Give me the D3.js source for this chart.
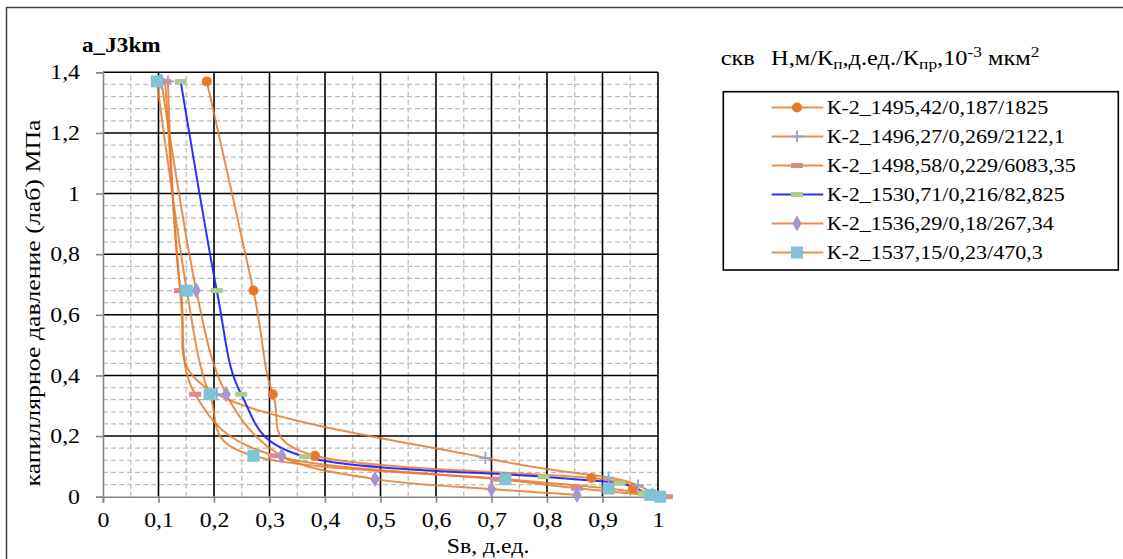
<!DOCTYPE html>
<html><head><meta charset="utf-8">
<script src="https://cdn.jsdelivr.net/npm/d3@7"></script>
<style>
html,body{margin:0;padding:0;background:#fff;}
svg{display:block;font-family:"Liberation Serif","Times New Roman",serif;}
</style></head>
<body><svg id="c" width="1123" height="559"></svg>
<script>
// ---- data ----
const legendNames = ["К-2_1495,42/0,187/1825","К-2_1496,27/0,269/2122,1","К-2_1498,58/0,229/6083,35","К-2_1530,71/0,216/82,825","К-2_1536,29/0,18/267,34","К-2_1537,15/0,23/470,3"];
const sw1495 = [0.187,0.271,0.306,0.382,0.88,0.955,0.985];
const pc1495 = [1.37,0.68,0.338,0.135,0.062,0.028,0.008];
const sw1496 = [0.117,0.14,0.205,0.689,0.911,0.964,0.99];
const pc1496 = [1.37,0.68,0.338,0.128,0.063,0.037,0.01];
const sw1498 = [0.112,0.139,0.166,0.31,0.71,0.854,1.016];
const pc1498 = [1.37,0.68,0.338,0.135,0.058,0.028,0.0];
const sw1530 = [0.14,0.205,0.249,0.364,0.794,0.931,0.975];
const pc1530 = [1.37,0.68,0.338,0.132,0.066,0.044,0.012];
const sw1536 = [0.105,0.168,0.222,0.322,0.49,0.70,0.854];
const pc1536 = [1.37,0.68,0.338,0.135,0.058,0.025,0.006];
const sw1537 = [0.097,0.151,0.192,0.271,0.725,0.911,0.986,1.004];
const pc1537 = [1.37,0.68,0.338,0.135,0.058,0.027,0.006,0.0];
const xTicks = [0,0.1,0.2,0.3,0.4,0.5,0.6,0.7,0.8,0.9,1];
const yTicks = [0,0.2,0.4,0.6,0.8,1,1.2,1.4];
const chartTitle = "a_J3km";
const xTitle = "Sв, д.ед.";
const yTitle = "капиллярное давление (лаб) МПа";

const swSets = [sw1495,sw1496,sw1498,sw1530,sw1536,sw1537];
const pcSets = [pc1495,pc1496,pc1498,pc1530,pc1536,pc1537];
const lineColors = ["#E8792B","#E8792B","#E8792B","#2323F5","#E8792B","#E8792B"];
const markerTypes = ["circle","plus","dash","dash","diamond","square"];
const markerColors = ["#E8792B","#8FA6D2","#D98C8C","#A9CF8C","#A597CB","#7FC3D4"];

const svg = d3.select("#c");
svg.append("rect").attr("width",1123).attr("height",559).attr("fill","#fff");
svg.append("rect").attr("x",6.5).attr("y",7.5).attr("width",1130).attr("height",600)
  .attr("fill","none").attr("stroke","#404040").attr("stroke-width",1.5);

const x = d3.scaleLinear().domain([0,1]).range([103,658]);
const y = d3.scaleLinear().domain([0,1.4]).range([496.7,72.3]);
const fmt = d => String(+d.toFixed(2)).replace(".", ",");

// stretch factor for text (reference text looks horizontally wide)
const probe = svg.append("text").attr("font-size",19).text(legendNames[0]);
const stretch = 221.7 / probe.node().getComputedTextLength();
probe.remove();

function addText(g, tx, ty, str, size, anchor, rot, weight){
  const t = g.append("text")
    .attr("transform",`translate(${tx},${ty}) rotate(${rot||0}) scale(${stretch},1)`)
    .attr("font-size",size).attr("text-anchor",anchor||"start")
    .attr("font-weight",weight||"normal").attr("fill","#000");
  if (str!=null) t.text(str);
  return t;
}

// grid
const grid = svg.append("g");
const minorX = d3.range(0,10).map(k=>0.05+0.1*k);
const minorY = d3.range(1,35).filter(k=>k%5!==0).map(k=>k*0.04);
grid.selectAll(".mx").data(minorX).join("line")
  .attr("x1",d=>x(d)).attr("x2",d=>x(d)).attr("y1",y(0)).attr("y2",y(1.4))
  .attr("stroke","#BDBDBD").attr("stroke-width",1.3).attr("stroke-dasharray","5,3");
grid.selectAll(".my").data(minorY).join("line")
  .attr("x1",x(0)).attr("x2",x(1)).attr("y1",d=>y(d)).attr("y2",d=>y(d))
  .attr("stroke","#BDBDBD").attr("stroke-width",1.3).attr("stroke-dasharray","5,3");
grid.selectAll(".Mx").data(xTicks.slice(1)).join("line")
  .attr("x1",d=>x(d)).attr("x2",d=>x(d)).attr("y1",y(0)).attr("y2",y(1.4))
  .attr("stroke","#000").attr("stroke-width",1.6);
grid.selectAll(".My").data(yTicks.slice(1)).join("line")
  .attr("x1",x(0)).attr("x2",x(1)).attr("y1",d=>y(d)).attr("y2",d=>y(d))
  .attr("stroke","#000").attr("stroke-width",1.6);

// axes
const ax = svg.append("g").attr("transform",`translate(0,${y(0)})`)
  .call(d3.axisBottom(x).tickValues(xTicks).tickSize(6).tickPadding(10).tickFormat(fmt));
const ay = svg.append("g").attr("transform",`translate(${x(0)},0)`)
  .call(d3.axisLeft(y).tickValues(yTicks).tickSize(7).tickPadding(16).tickFormat(fmt));
[ax,ay].forEach(a=>{
  a.select(".domain").attr("stroke","#888").attr("stroke-width",1.6);
  a.selectAll(".tick line").attr("stroke","#888").attr("stroke-width",1.6);
  a.selectAll(".tick text").attr("font-size",20.5).attr("fill","#000")
    .attr("font-family","Liberation Serif, serif");
});
ax.selectAll(".tick text").each(function(){
  const t=d3.select(this); const yy=+t.attr("y");
  t.attr("transform",`scale(${stretch},1)`).attr("y",yy);
});
ay.selectAll(".tick text").each(function(){
  const t=d3.select(this); const xx=+t.attr("x");
  t.attr("transform",`scale(${stretch},1)`).attr("x",xx/stretch);
});

// series lines
const lineGen = d3.line().x(d=>x(d[0])).y(d=>y(d[1])).curve(d3.curveCardinal.tension(0));
const plotG = svg.append("g");
swSets.forEach((sw,i)=>{
  const pts = sw.map((v,j)=>[v,pcSets[i][j]]);
  plotG.append("path").attr("d",lineGen(pts)).attr("fill","none")
    .attr("stroke",lineColors[i]).attr("stroke-width",2)
    .attr("stroke-opacity", i===3?0.95:0.85);
});

function drawMarker(g, px, py, type, color){
  if (type==="circle") g.append("circle").attr("cx",px).attr("cy",py).attr("r",5).attr("fill",color);
  else if (type==="plus") {
    g.append("path").attr("d",`M${px-6},${py}H${px+6}M${px},${py-6}V${py+6}`)
      .attr("stroke",color).attr("stroke-width",1.8).attr("fill","none");
  }
  else if (type==="dash") g.append("rect").attr("x",px-6).attr("y",py-2.5).attr("width",12).attr("height",5).attr("fill",color);
  else if (type==="diamond") g.append("path").attr("d",d3.symbol(d3.symbolDiamond,75)()).attr("transform",`translate(${px},${py})`).attr("fill",color);
  else if (type==="square") g.append("rect").attr("x",px-6).attr("y",py-6).attr("width",12).attr("height",12).attr("fill",color);
}
swSets.forEach((sw,i)=>{
  const g = plotG.append("g");
  sw.forEach((v,j)=> drawMarker(g, x(v), y(pcSets[i][j]), markerTypes[i], markerColors[i]));
});

// titles
addText(svg, 82, 52, chartTitle, 20, "start", 0, "bold");
addText(svg, 488, 553, xTitle, 20.5, "middle");
svg.append("text").attr("transform","translate(40,303) rotate(-90)")
  .attr("font-size",21).attr("text-anchor","middle")
  .attr("textLength",367).attr("lengthAdjust","spacingAndGlyphs").text(yTitle);

// legend title
const lt = addText(svg, 720.7, 65, null, 21, "start");
lt.append("tspan").text("скв");
lt.append("tspan").attr("dx",14).text("Н,м/К");
lt.append("tspan").attr("font-size",15).attr("dy",4).text("п");
lt.append("tspan").attr("dy",-4).text(",д.ед./К");
lt.append("tspan").attr("font-size",15).attr("dy",4).text("пр");
lt.append("tspan").attr("dy",-4).text(",10");
lt.append("tspan").attr("font-size",15).attr("dy",-8).text("-3");
lt.append("tspan").attr("dy",8).text(" мкм");
lt.append("tspan").attr("font-size",15).attr("dy",-8).text("2");

// legend box
const lg = svg.append("g");
lg.append("rect").attr("x",723.3).attr("y",91.7).attr("width",395).attr("height",178.3)
  .attr("fill","#fff").attr("stroke","#000").attr("stroke-width",1.6);
legendNames.forEach((n,i)=>{
  const cy = 107.5 + i*29;
  lg.append("line").attr("x1",771.7).attr("x2",823.3).attr("y1",cy).attr("y2",cy)
    .attr("stroke",lineColors[i]).attr("stroke-width",2).attr("stroke-opacity",i===3?0.95:0.85);
  drawMarker(lg, 797, cy, markerTypes[i], markerColors[i]);
  addText(lg, 826.7, cy+6.5, n, 19, "start");
});
</script></body></html>
